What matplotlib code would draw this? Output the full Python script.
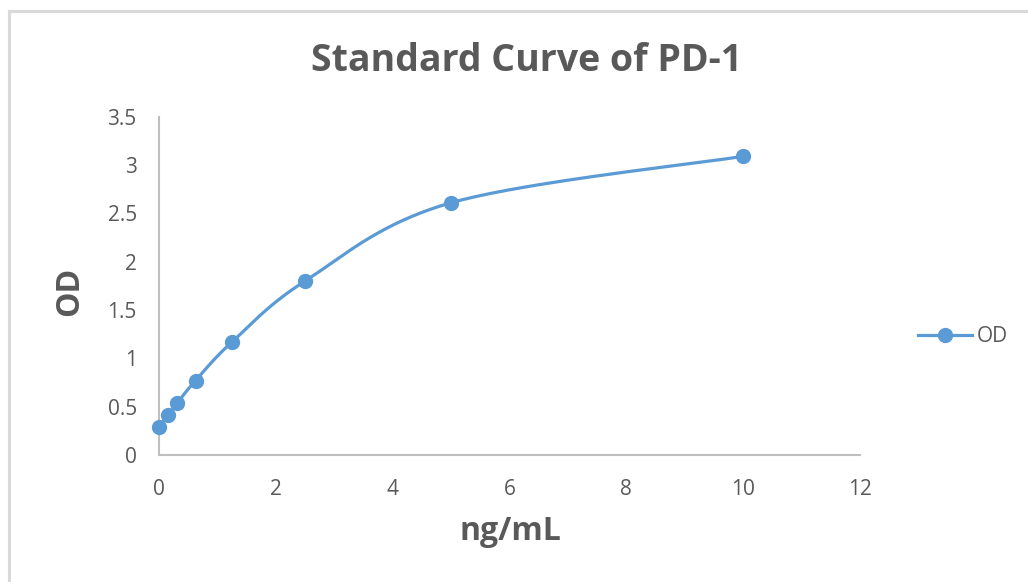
"""Standard curve of PD-1: OD against concentration, drawn as an Excel-style smoothed scatter."""

import matplotlib

matplotlib.use("Agg")

import matplotlib.pyplot as plt  # noqa: E402
import numpy as np  # noqa: E402
from matplotlib.lines import Line2D  # noqa: E402

# Standard dilutions (ng/mL) and measured optical density.
concentration = [0, 0.156, 0.3125, 0.625, 1.25, 2.5, 5, 10]
od = [0.29, 0.41, 0.54, 0.77, 1.17, 1.80, 2.61, 3.09]

x_ticks = [0, 2, 4, 6, 8, 10, 12]
y_ticks = [0, 0.5, 1, 1.5, 2, 2.5, 3, 3.5]

BLUE = "#5B9BD5"
TEXT_GRAY = "#595959"
AXIS_GRAY = "#BFBFBF"
FONT = "Open Sans"


def smooth_curve(xs, ys, steps=40):
    """Cubic Bezier through the points, control handles at 1/6 of neighbour spacing."""
    pts = np.column_stack([xs, ys]).astype(float)
    padded = np.vstack([pts[0], pts, pts[-1]])
    t = np.linspace(0, 1, steps)[:, None]
    out = []
    for i in range(len(pts) - 1):
        p0, p1, p2, p3 = padded[i], padded[i + 1], padded[i + 2], padded[i + 3]
        c1 = p1 + (p2 - p0) / 6
        c2 = p2 - (p3 - p1) / 6
        seg = ((1 - t) ** 3) * p1 + 3 * ((1 - t) ** 2) * t * c1 + 3 * (1 - t) * t**2 * c2 + t**3 * p2
        out.append(seg if i == 0 else seg[1:])
    curve = np.vstack(out)
    return curve[:, 0], curve[:, 1]


fig = plt.figure(figsize=(10.28, 5.82), dpi=100)
fig.patch.set_facecolor("white")

# light chart-area frame along the left and top edges
fig.add_artist(Line2D([0.0088, 0.0088], [0, 0.981], color="#D9D9D9", lw=2.2, transform=fig.transFigure))
fig.add_artist(Line2D([0.0088, 1], [0.981, 0.981], color="#D9D9D9", lw=2.2, transform=fig.transFigure))

ax = fig.add_axes([0.1547, 0.2182, 0.682, 0.5813])

cx, cy = smooth_curve(concentration, od)
ax.plot(cx, cy, color=BLUE, lw=2.3, solid_capstyle="round", zorder=2)
ax.plot(concentration, od, "o", color=BLUE, markersize=10, zorder=3, clip_on=False)

ax.set_xlim(0, 12)
ax.set_ylim(0, 3.5)
ax.set_xticks(x_ticks)
ax.set_yticks(y_ticks)
ax.set_xticklabels([str(v) for v in x_ticks])
ax.set_yticklabels([f"{v:g}" for v in y_ticks])
ax.tick_params(length=0, labelsize=15, labelcolor=TEXT_GRAY)
ax.tick_params(axis="x", pad=17)
ax.tick_params(axis="y", pad=16)
for label in ax.get_xticklabels() + ax.get_yticklabels():
    label.set_fontfamily(FONT)

for side in ("top", "right"):
    ax.spines[side].set_visible(False)
for side in ("left", "bottom"):
    ax.spines[side].set_color(AXIS_GRAY)
    ax.spines[side].set_linewidth(1.5)

fig.text(0.512, 0.895, "Standard Curve of PD-1", ha="center", va="center",
         fontsize=27, fontweight="bold", color=TEXT_GRAY, family=FONT)
fig.text(0.4962, 0.086, "ng/mL", ha="center", va="center",
         fontsize=23, fontweight="bold", color=TEXT_GRAY, family=FONT)
fig.text(0.068, 0.50, "OD", ha="center", va="center", rotation=90,
         fontsize=23, fontweight="bold", color=TEXT_GRAY, family=FONT)

# legend entry on the right
legend_handle = Line2D([], [], color=BLUE, lw=2.3, marker="o", markersize=10)
leg = fig.legend([legend_handle], ["OD"], loc="center left", bbox_to_anchor=(0.883, 0.422),
                 frameon=False, handlelength=2.6, handletextpad=0.2, borderpad=0,
                 prop={"family": FONT, "size": 15})
for text in leg.get_texts():
    text.set_color(TEXT_GRAY)

fig.savefig("out.png", dpi=100, facecolor="white")
